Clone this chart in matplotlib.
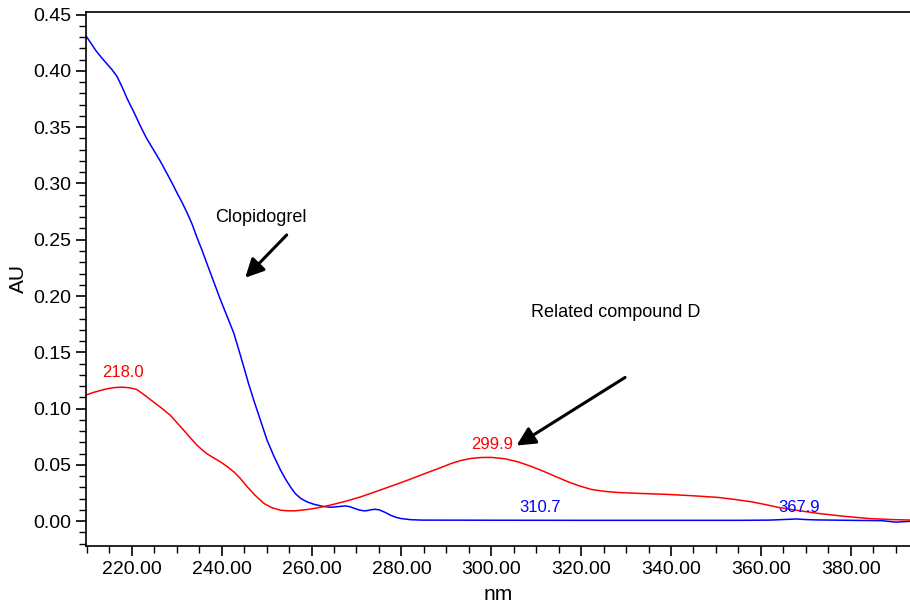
import matplotlib
matplotlib.use('Agg')
import matplotlib.pyplot as plt
from matplotlib.ticker import MultipleLocator, FormatStrFormatter

plt.rcParams['font.family'] = ['Liberation Sans', 'DejaVu Sans']

# Clopidogrel spectrum (blue)
clop_nm = [209.8, 211.0, 212.0, 213.2, 214.5, 215.6, 216.7, 217.8, 219.0, 220.5,
           221.9, 223.3, 224.8, 226.3, 227.8, 229.0, 230.0, 231.2, 232.3, 233.4,
           234.5, 235.6, 236.7, 238.2, 239.7, 241.2, 242.7, 243.9, 245.0, 246.0,
           247.1, 248.6, 250.1, 251.6, 253.1, 254.2, 255.3, 256.4, 257.6, 259.0,
           260.5, 262.4, 264.3, 266.0, 267.6, 268.6, 269.5, 270.6, 271.7, 272.5,
           273.2, 274.1, 275.0, 276.3, 277.5, 278.7, 279.9, 282.0, 284.4,
           300.0, 320.0, 340.0, 355.0, 362.0, 365.0, 367.9, 370.0, 372.0, 380.0,
           387.0, 390.0, 393.7]
clop_au = [0.431, 0.424, 0.418, 0.412, 0.406, 0.401, 0.395, 0.386, 0.375, 0.363,
           0.351, 0.340, 0.330, 0.320, 0.309, 0.300, 0.292, 0.283, 0.274, 0.264,
           0.252, 0.241, 0.229, 0.213, 0.197, 0.182, 0.167, 0.151, 0.136, 0.122,
           0.108, 0.090, 0.072, 0.058, 0.0454, 0.0375, 0.0305, 0.0245, 0.0202, 0.0172,
           0.0151, 0.0133, 0.0124, 0.0130, 0.0136, 0.0128, 0.0115, 0.0100, 0.0092, 0.0095,
           0.0102, 0.0106, 0.0102, 0.0080, 0.0055, 0.0036, 0.0024, 0.0014, 0.0010,
           0.0009, 0.0008, 0.0008, 0.0008, 0.0010, 0.0015, 0.0020, 0.0015, 0.0012, 0.0008,
           0.0005, -0.0008, 0.0]

# Related compound D spectrum (red)
rcd_nm = [209.8, 211.3, 212.9, 214.0, 215.0, 216.2, 217.4, 218.5, 219.5, 220.3,
          221.1, 222.9, 224.8, 226.7, 228.6, 230.0, 231.5, 233.0, 234.5, 235.6,
          236.7, 238.2, 239.7, 241.2, 242.7, 244.2, 245.7, 247.5, 249.4, 251.2,
          253.1, 254.6, 256.1, 258.3, 260.5, 262.8, 265.0, 268.0, 270.9, 273.5,
          276.2, 278.8, 281.4, 283.7, 286.0, 288.5, 291.1, 293.3, 295.5, 297.8,
          300.0, 303.0, 305.9, 308.9, 311.9, 314.5, 317.1, 319.7, 322.3, 325.3,
          328.3, 333.8, 339.4, 345.0, 350.6, 354.3, 358.0, 361.0, 364.0, 368.5,
          372.9, 378.5, 384.1, 389.0, 393.7]
rcd_au = [0.112, 0.1142, 0.116, 0.1172, 0.118, 0.1187, 0.119, 0.1189, 0.1185, 0.1178,
          0.117, 0.1118, 0.106, 0.1002, 0.094, 0.0877, 0.081, 0.0742, 0.0676, 0.0636,
          0.060, 0.0563, 0.0528, 0.0486, 0.0439, 0.0378, 0.0305, 0.0228, 0.0158, 0.0120,
          0.0098, 0.0093, 0.0092, 0.0100, 0.0113, 0.0130, 0.0151, 0.0182, 0.0216, 0.0252,
          0.029, 0.0327, 0.0365, 0.0400, 0.0435, 0.0472, 0.0513, 0.0540, 0.0558, 0.0566,
          0.0567, 0.0555, 0.0528, 0.0487, 0.0439, 0.0394, 0.035, 0.0313, 0.0282, 0.0265,
          0.0255, 0.0246, 0.0238, 0.0226, 0.0211, 0.0193, 0.0172, 0.0148, 0.0122, 0.0094,
          0.0069, 0.0044, 0.0024, 0.0015, 0.001]

# peak labels: (text, x, y, colour)
peak_text = ['218.0', '299.9', '310.7', '367.9']
peak_x = [218.0, 300.1, 310.9, 368.5]
peak_y = [0.132, 0.0685, 0.0125, 0.0125]
peak_col = ['#ff0000', '#ff0000', '#0000ff', '#0000ff']

fig = plt.figure(figsize=(9.1, 6.06), dpi=100)
ax = fig.add_axes([0.0945, 0.099, 0.9055, 0.882])

ax.plot(clop_nm, clop_au, color='#0000ff', linewidth=1.1)
ax.plot(rcd_nm, rcd_au, color='#ff0000', linewidth=1.1)

for t, x, y, c in zip(peak_text, peak_x, peak_y, peak_col):
    ax.text(x, y, t, color=c, fontsize=12, ha='center', va='center')

ax.annotate('', xy=(244.8, 0.2145), xytext=(254.9, 0.256),
            arrowprops=dict(arrowstyle='-|>', color='black', lw=2.2, mutation_scale=28))
ax.text(248.7, 0.270, 'Clopidogrel', fontsize=13, ha='center', va='center')

ax.annotate('', xy=(305.1, 0.0659), xytext=(330.3, 0.129),
            arrowprops=dict(arrowstyle='-|>', color='black', lw=2.2, mutation_scale=28))
ax.text(327.7, 0.185, 'Related compound D', fontsize=13, ha='center', va='center')

ax.set_xlim(209.8, 393.2)
ax.set_ylim(-0.022, 0.4527)
ax.xaxis.set_major_locator(MultipleLocator(20))
ax.xaxis.set_minor_locator(MultipleLocator(5))
ax.yaxis.set_major_locator(MultipleLocator(0.05))
ax.yaxis.set_minor_locator(MultipleLocator(0.01))
ax.xaxis.set_major_formatter(FormatStrFormatter('%.2f'))
ax.yaxis.set_major_formatter(FormatStrFormatter('%.2f'))
ax.tick_params(which='major', direction='out', length=7, width=1.2, labelsize=14)
ax.tick_params(which='minor', direction='out', length=5, width=1.0)
ax.spines['right'].set_visible(False)
for s in ['left', 'bottom', 'top']:
    ax.spines[s].set_linewidth(1.2)

ax.set_xlabel('nm', fontsize=15, labelpad=5)
ax.set_ylabel('AU', fontsize=15, labelpad=4)

fig.savefig('out.png', dpi=100)
